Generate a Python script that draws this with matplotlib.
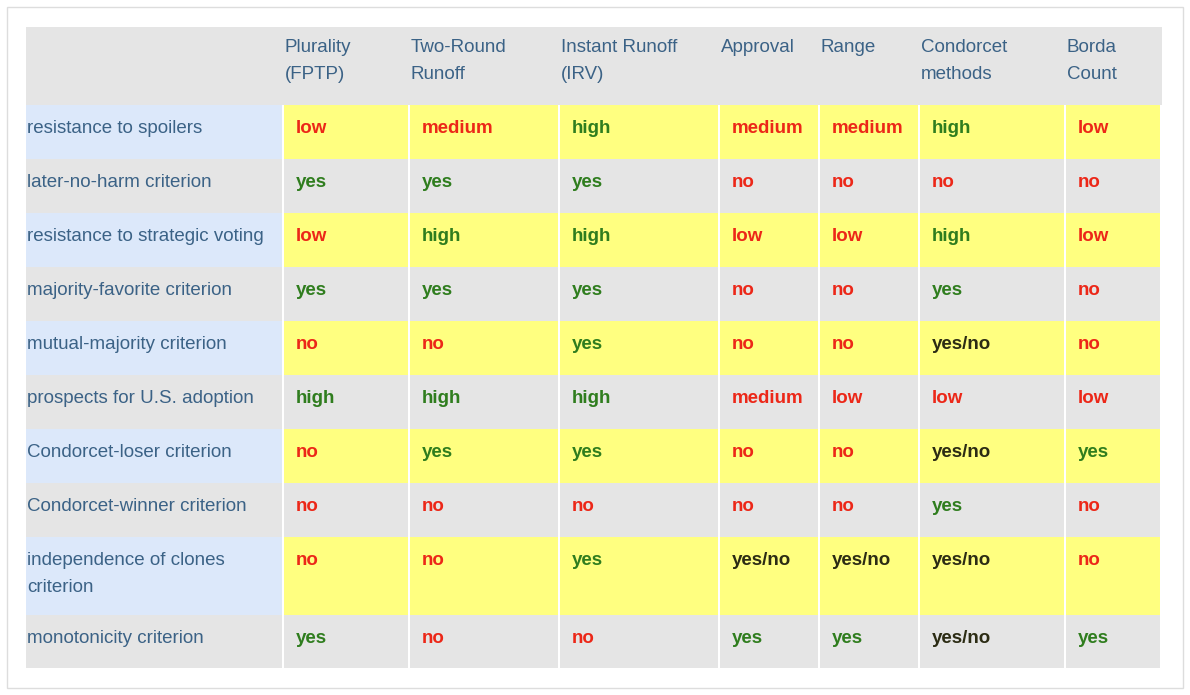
import matplotlib
matplotlib.use("Agg")
import matplotlib.pyplot as plt
from matplotlib.patches import Rectangle

columns = ["Plurality\n(FPTP)", "Two-Round\nRunoff", "Instant Runoff\n(IRV)", "Approval", "Range", "Condorcet\nmethods", "Borda\nCount"]
criteria = ["resistance to spoilers", "later-no-harm criterion", "resistance to strategic voting",
            "majority-favorite criterion", "mutual-majority criterion", "prospects for U.S. adoption",
            "Condorcet-loser criterion", "Condorcet-winner criterion", "independence of clones\ncriterion",
            "monotonicity criterion"]
values = [
    ["low", "medium", "high", "medium", "medium", "high", "low"],
    ["yes", "yes", "yes", "no", "no", "no", "no"],
    ["low", "high", "high", "low", "low", "high", "low"],
    ["yes", "yes", "yes", "no", "no", "yes", "no"],
    ["no", "no", "yes", "no", "no", "yes/no", "no"],
    ["high", "high", "high", "medium", "low", "low", "low"],
    ["no", "yes", "yes", "no", "no", "yes/no", "yes"],
    ["no", "no", "no", "no", "no", "yes", "no"],
    ["no", "no", "yes", "yes/no", "yes/no", "yes/no", "no"],
    ["yes", "no", "no", "yes", "yes", "yes/no", "yes"],
]
good = {"yes", "high"}
bad = {"no", "low", "medium"}

col_x = [26, 284, 410, 560, 720, 820, 920, 1066, 1162]
row_y = [27, 105, 159, 213, 267, 321, 375, 429, 483, 537, 615, 668]

fig = plt.figure(figsize=(11.9, 6.95), dpi=100)
ax = fig.add_axes([0, 0, 1, 1])
ax.set_xlim(0, 1190); ax.set_ylim(695, 0); ax.axis("off")
ax.add_patch(Rectangle((7, 7), 1176, 681, fill=False, ec="#dddddd", lw=1))

ax.add_patch(Rectangle((col_x[0], row_y[0]), col_x[-1] - col_x[0], row_y[1] - row_y[0], color="#e5e5e5", lw=0))
for j, c in enumerate(columns):
    ax.text(col_x[j + 1] + 1, row_y[0] + 12, c, va="top", ha="left", fontsize=13.5,
            color="#3b6286", family="Liberation Sans", linespacing=1.75)

for i, crit in enumerate(criteria):
    y0, y1 = row_y[i + 1], row_y[i + 2]
    bg = "#ffff80" if i % 2 == 0 else "#e5e5e5"
    lbg = "#dce8fa" if i % 2 == 0 else "#e5e5e5"
    ax.add_patch(Rectangle((col_x[0], y0), col_x[1] - col_x[0] - 2, y1 - y0, color=lbg, lw=0))
    ax.text(col_x[0] + 1, y0 + 15, crit, va="top", ha="left", fontsize=13.5,
            color="#3b6286", family="Liberation Sans", linespacing=1.75)
    for j, v in enumerate(values[i]):
        x0, x1 = col_x[j + 1], col_x[j + 2]
        ax.add_patch(Rectangle((x0, y0), x1 - x0 - 2, y1 - y0, color=bg, lw=0))
        colr = "#2f7d1e" if v in good else ("#ec2718" if v in bad else "#2c2c14")
        ax.text(x0 + 12, y0 + 15, v, va="top", ha="left", fontsize=13.5, fontweight="bold",
                color=colr, family="Liberation Sans")

fig.savefig("out.png", dpi=100, facecolor="white")
